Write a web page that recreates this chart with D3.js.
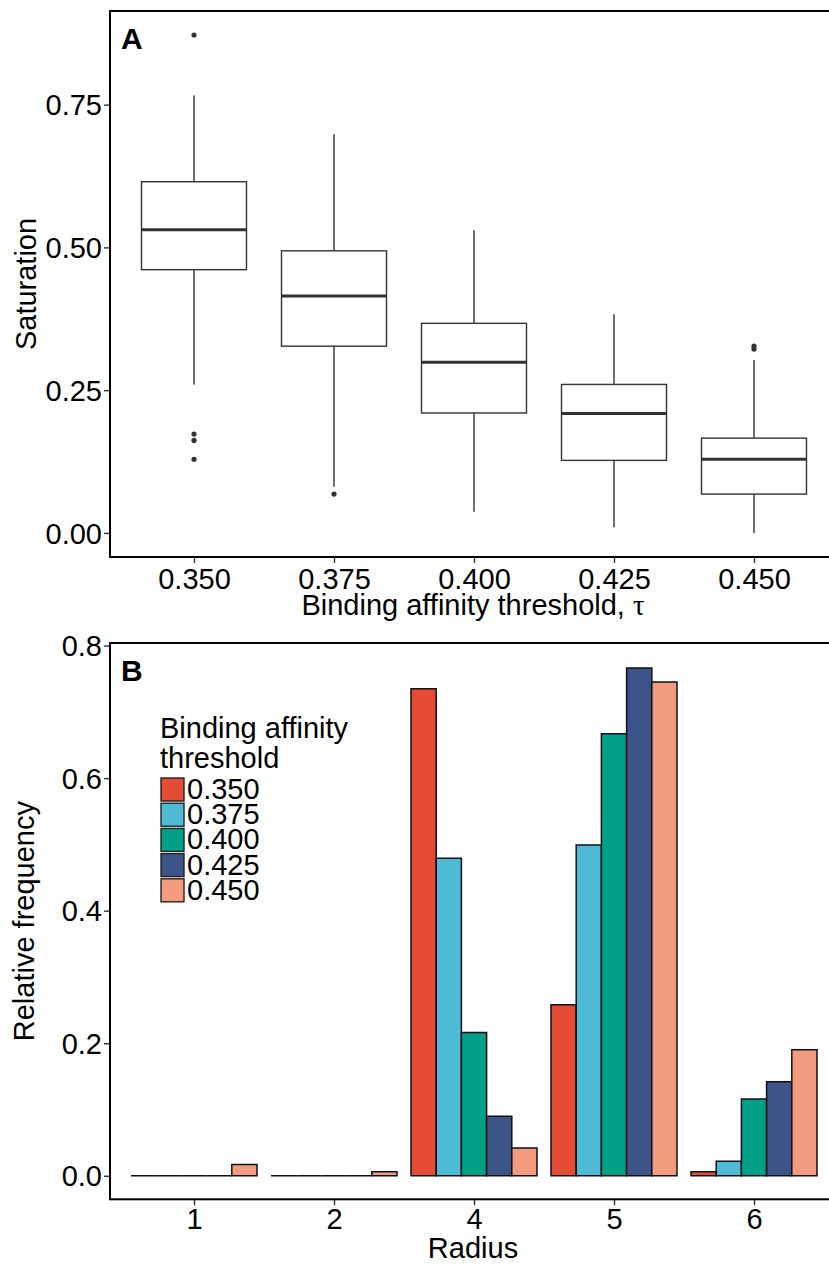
<!DOCTYPE html>
<html>
<head>
<meta charset="utf-8">
<script src="https://cdn.jsdelivr.net/npm/d3@7"></script>
<style>
  html, body { margin: 0; padding: 0; background: #fff; }
  text { font-family: "Liberation Sans", Arial, Helvetica, sans-serif; }
</style>
</head>
<body>
<svg id="chart" width="829" height="1264"></svg>
<script>
// ---------- Panel A data (box plots) ----------
const thresholds = ["0.350", "0.375", "0.400", "0.425", "0.450"];
const whiskerLow  = [0.260, 0.081, 0.037, 0.010, 0.000];
const boxQ1       = [0.461, 0.327, 0.210, 0.127, 0.068];
const boxMedian   = [0.531, 0.415, 0.299, 0.209, 0.129];
const boxQ3       = [0.615, 0.494, 0.367, 0.260, 0.166];
const whiskerHigh = [0.766, 0.698, 0.530, 0.383, 0.303];
const outliers    = [[0.872, 0.173, 0.162, 0.129], [0.068], [], [], [0.322, 0.327]];
const yTicksA = [0, 0.25, 0.5, 0.75];

// ---------- Panel B data (grouped bars) ----------
const radii = ["1", "2", "4", "5", "6"];
const freq0350 = [0.000, 0.000, 0.735, 0.258, 0.006];
const freq0375 = [0.000, 0.000, 0.479, 0.499, 0.022];
const freq0400 = [0.000, 0.000, 0.216, 0.667, 0.116];
const freq0425 = [0.000, 0.000, 0.090, 0.766, 0.142];
const freq0450 = [0.017, 0.006, 0.042, 0.745, 0.190];
const seriesB = [freq0350, freq0375, freq0400, freq0425, freq0450];
const colorsB = ["#E64B35", "#4DBBD5", "#00A087", "#3C5488", "#F39B7F"];
const yTicksB = [0, 0.2, 0.4, 0.6, 0.8];

const svg = d3.select("#chart");
const FONT = 29;

// ===================== Panel A =====================
const A = { left: 110, right: 838, top: 11, bottom: 557 };
const xA = d3.scalePoint().domain(thresholds).range([A.left, A.right]).padding(0.6);
const yA = d3.scaleLinear().domain([-0.0422, 0.914]).range([A.bottom, A.top]);
const stepA = xA.step();
const boxW = stepA * 0.75;

const gA = svg.append("g");
const boxes = thresholds.map((t, i) => ({
  t, lo: whiskerLow[i], q1: boxQ1[i], med: boxMedian[i], q3: boxQ3[i], hi: whiskerHigh[i], out: outliers[i]
}));

const bg = gA.selectAll("g.box").data(boxes).join("g").attr("class", "box");
bg.append("line").attr("x1", d => xA(d.t)).attr("x2", d => xA(d.t))
  .attr("y1", d => yA(d.hi)).attr("y2", d => yA(d.q3))
  .attr("stroke", "#333").attr("stroke-width", 1.4);
bg.append("line").attr("x1", d => xA(d.t)).attr("x2", d => xA(d.t))
  .attr("y1", d => yA(d.q1)).attr("y2", d => yA(d.lo))
  .attr("stroke", "#333").attr("stroke-width", 1.4);
bg.append("rect").attr("x", d => xA(d.t) - boxW / 2).attr("width", boxW)
  .attr("y", d => yA(d.q3)).attr("height", d => yA(d.q1) - yA(d.q3))
  .attr("fill", "#fff").attr("stroke", "#333").attr("stroke-width", 1.4);
bg.append("line").attr("x1", d => xA(d.t) - boxW / 2).attr("x2", d => xA(d.t) + boxW / 2)
  .attr("y1", d => yA(d.med)).attr("y2", d => yA(d.med))
  .attr("stroke", "#333").attr("stroke-width", 3);
bg.each(function(d) {
  d3.select(this).selectAll("circle").data(d.out).join("circle")
    .attr("cx", xA(d.t)).attr("cy", v => yA(v)).attr("r", 2.6).attr("fill", "#333");
});

const axALeft = d3.axisLeft(yA).tickValues(yTicksA).tickFormat(d3.format(".2f")).tickSize(6).tickPadding(4);
const gAy = gA.append("g").attr("transform", `translate(${A.left},0)`).call(axALeft);
const axABottom = d3.axisBottom(xA).tickSize(6).tickPadding(4);
const gAx = gA.append("g").attr("transform", `translate(0,${A.bottom})`).call(axABottom);
[gAy, gAx].forEach(g => {
  g.select(".domain").remove();
  g.selectAll(".tick line").attr("stroke", "#333").attr("stroke-width", 1.4);
  g.selectAll(".tick text").attr("font-size", FONT).attr("fill", "#000")
    .style("font-family", '"Liberation Sans", Arial, sans-serif');
});
gAy.selectAll(".tick text").attr("x", -8).attr("dy", "0.35em");
gAx.selectAll(".tick text").attr("dy", null).attr("y", 32);
gA.append("rect").attr("x", A.left).attr("y", A.top).attr("width", A.right - A.left).attr("height", A.bottom - A.top)
  .attr("fill", "none").attr("stroke", "#000").attr("stroke-width", 2);

gA.append("text").attr("x", 121).attr("y", 49).attr("font-size", 30).attr("font-weight", "bold").text("A");
gA.append("text").attr("transform", `translate(36,${(A.top + A.bottom) / 2}) rotate(-90)`)
  .attr("text-anchor", "middle").attr("font-size", FONT).text("Saturation");
const xt = gA.append("text").attr("x", (A.left + 828) / 2 + 4).attr("y", 615)
  .attr("text-anchor", "middle").attr("font-size", FONT);
xt.append("tspan").text("Binding affinity threshold, ");
xt.append("tspan").style("font-family", '"Liberation Serif", "DejaVu Serif", serif').text("τ");

// ===================== Panel B =====================
const B = { left: 110, right: 838, top: 643, bottom: 1199.3 };
const xB = d3.scalePoint().domain(radii).range([B.left, B.right]).padding(0.6);
const yB = d3.scaleLinear().domain([-0.0355, 0.8039]).range([B.bottom, B.top]);
const groupW = xB.step() * 0.9;
const xInner = d3.scaleBand().domain(d3.range(seriesB.length)).range([-groupW / 2, groupW / 2]);

const gB = svg.append("g");
seriesB.forEach((vals, si) => {
  gB.selectAll(null).data(vals.map((v, ri) => ({ r: radii[ri], v }))).join("path")
    .attr("d", d => {
      const x0 = xB(d.r) + xInner(si), w = xInner.bandwidth();
      const y0 = yB(0), y1 = yB(d.v);
      return `M${x0},${y0}H${x0 + w}V${y1}H${x0}Z`;
    })
    .attr("fill", colorsB[si]).attr("stroke", "#111").attr("stroke-width", 1.5)
    .attr("stroke-linejoin", "miter");
});

const axBLeft = d3.axisLeft(yB).tickValues(yTicksB).tickFormat(d3.format(".1f")).tickSize(6).tickPadding(4);
const gBy = gB.append("g").attr("transform", `translate(${B.left},0)`).call(axBLeft);
const axBBottom = d3.axisBottom(xB).tickSize(6).tickPadding(4);
const gBx = gB.append("g").attr("transform", `translate(0,${B.bottom})`).call(axBBottom);
[gBy, gBx].forEach(g => {
  g.select(".domain").remove();
  g.selectAll(".tick line").attr("stroke", "#333").attr("stroke-width", 1.4);
  g.selectAll(".tick text").attr("font-size", FONT).attr("fill", "#000")
    .style("font-family", '"Liberation Sans", Arial, sans-serif');
});
gBy.selectAll(".tick text").attr("x", -8).attr("dy", "0.35em");
gBx.selectAll(".tick text").attr("dy", null).attr("y", 30);
gB.append("rect").attr("x", B.left).attr("y", B.top).attr("width", B.right - B.left).attr("height", B.bottom - B.top)
  .attr("fill", "none").attr("stroke", "#000").attr("stroke-width", 2);

gB.append("text").attr("x", 121).attr("y", 681).attr("font-size", 30).attr("font-weight", "bold").text("B");
gB.append("text").attr("transform", `translate(34,${(B.top + B.bottom) / 2}) rotate(-90)`)
  .attr("text-anchor", "middle").attr("font-size", FONT).text("Relative frequency");
gB.append("text").attr("x", (B.left + 828) / 2 + 4).attr("y", 1258)
  .attr("text-anchor", "middle").attr("font-size", FONT).text("Radius");

// legend
const lg = gB.append("g");
lg.append("text").attr("x", 160).attr("y", 738).attr("font-size", FONT).text("Binding affinity");
lg.append("text").attr("x", 160).attr("y", 768).attr("font-size", FONT).text("threshold");
thresholds.forEach((t, i) => {
  const y = 778 + i * 25.2;
  lg.append("rect").attr("x", 161).attr("y", y).attr("width", 23).attr("height", 23)
    .attr("fill", colorsB[i]).attr("stroke", "#222").attr("stroke-width", 1.4);
  lg.append("text").attr("x", 187).attr("y", y + 21).attr("font-size", FONT).text(t);
});
</script>
</body>
</html>
